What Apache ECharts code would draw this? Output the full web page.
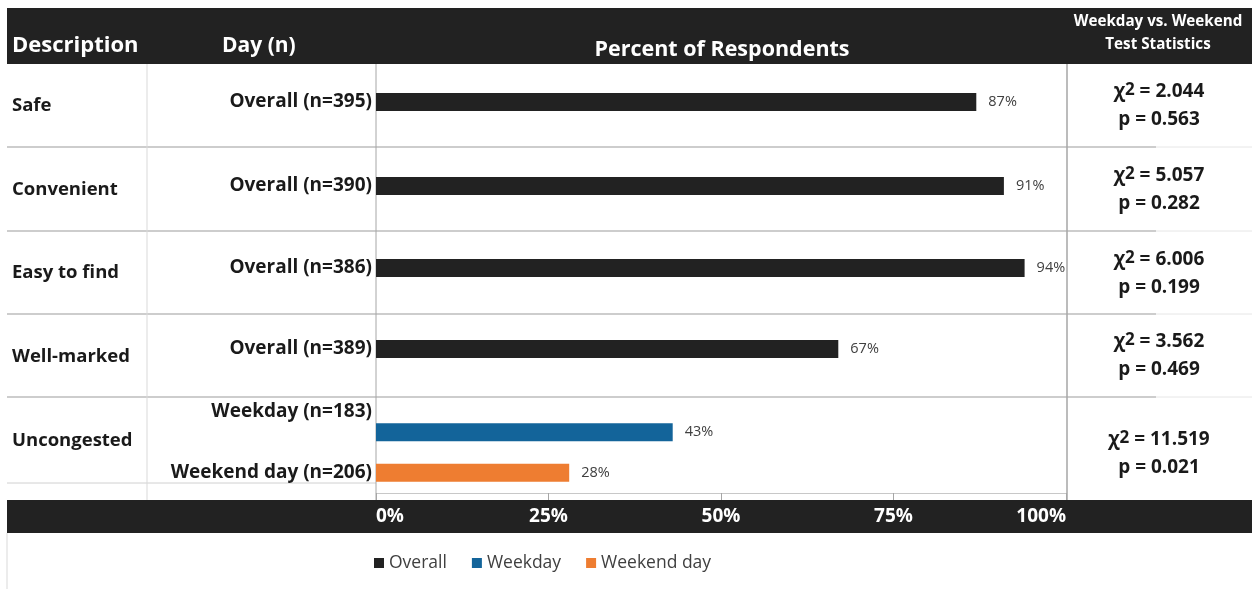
<!DOCTYPE html>
<html>
<head>
<meta charset="utf-8">
<script src="https://cdn.jsdelivr.net/npm/echarts@6/dist/echarts.min.js"></script>
<style>
  html, body { margin: 0; padding: 0; background: #ffffff; }
  #chart { width: 1252px; height: 589px; }
</style>
</head>
<body>
<div id="chart"></div>
<script>
// ---- data ----
const descriptions = ['Safe', 'Convenient', 'Easy to find', 'Well-marked', 'Uncongested'];
const dayLabels = [
  ['Overall (n=395)'],
  ['Overall (n=390)'],
  ['Overall (n=386)'],
  ['Overall (n=389)'],
  ['Weekday (n=183)', 'Weekend day (n=206)']
];
const overallValues = [87, 91, 94, 67];
const weekdayValues = [43];
const weekendValues = [28];
const chiSquare = ['2.044', '5.057', '6.006', '3.562', '11.519'];
const pValues = ['0.563', '0.282', '0.199', '0.469', '0.021'];
const percentTicks = [0, 25, 50, 75, 100];
const seriesNames = ['Overall', 'Weekday', 'Weekend day'];
const headers = ['Description', 'Day (n)', 'Percent of Respondents', 'Weekday vs. Weekend', 'Test Statistics'];

// ---- layout ----
const FONT = '"Open Sans", Lato, sans-serif';
const COLORS = { Overall: '#222222', Weekday: '#13649a', 'Weekend day': '#ee7d31' };
const plotLeft = 376, plotRight = 1066;
const rowLines = [147, 231, 314, 397];
const descCenters = [106, 190, 273, 357, 441];
const statCenters = [106, 190, 274, 356, 454];
const grids = [
  { top: 64, height: 76 },
  { top: 147, height: 78 },
  { top: 231, height: 74 },
  { top: 314, height: 70 },
  { top: 412, height: 81 }
];

const chart = echarts.init(document.getElementById('chart'), null, { renderer: 'canvas' });

const xAxes = grids.map((g, i) => {
  const last = i === grids.length - 1;
  return {
    gridIndex: i,
    type: 'value',
    min: percentTicks[0],
    max: percentTicks[percentTicks.length - 1],
    interval: percentTicks[1] - percentTicks[0],
    splitLine: { show: false },
    axisLine: { show: last, lineStyle: { color: '#c8c8c8', width: 1 } },
    axisTick: { show: last, length: 7, lineStyle: { color: '#a6a6a6' } },
    axisLabel: {
      show: last,
      color: '#ffffff',
      fontFamily: FONT,
      fontWeight: 'bold',
      fontSize: 19,
      margin: 14,
      alignMinLabel: 'left',
      alignMaxLabel: 'right',
      formatter: '{value}%'
    }
  };
});

const labelFont = { fontFamily: FONT, fontWeight: 'bold', fontSize: 19, color: '#1a1a1a' };
const yAxes = grids.map((g, i) => ({
  gridIndex: i,
  type: 'category',
  inverse: true,
  data: dayLabels[i],
  axisLine: { show: false },
  axisTick: { show: false },
  axisLabel: {
    margin: 4,
    formatter: (v, idx) => (dayLabels[i].length > 1 && idx === 0 ? '{up|' + v + '}' : '{n|' + v + '}'),
    rich: {
      n: Object.assign({}, labelFont),
      up: Object.assign({}, labelFont, { padding: [0, 0, 42, 0] })
    }
  }
}));

const valueLabel = {
  show: true,
  position: 'right',
  distance: 12,
  formatter: '{c}%',
  fontFamily: FONT,
  fontSize: 14.5,
  color: '#404040'
};

const series = [];
overallValues.forEach((v, i) => {
  series.push({
    name: seriesNames[0],
    type: 'bar',
    xAxisIndex: i,
    yAxisIndex: i,
    data: [v],
    barWidth: 18,
    itemStyle: { color: COLORS.Overall },
    label: valueLabel
  });
});
series.push({
  name: seriesNames[1],
  type: 'bar',
  xAxisIndex: 4,
  yAxisIndex: 4,
  stack: 'day',
  data: [weekdayValues[0], '-'],
  barWidth: 18,
  itemStyle: { color: COLORS.Weekday },
  label: valueLabel
});
series.push({
  name: seriesNames[2],
  type: 'bar',
  xAxisIndex: 4,
  yAxisIndex: 4,
  stack: 'day',
  data: ['-', weekendValues[0]],
  barWidth: 18,
  itemStyle: { color: COLORS['Weekend day'] },
  label: valueLabel
});

// table frame, header band and side texts
const graphics = [];
const line = (x1, y1, x2, y2, color, w) => graphics.push({
  type: 'line', silent: true, z: -5,
  shape: { x1, y1, x2, y2 },
  style: { stroke: color, lineWidth: w || 1 }
});
graphics.push({ type: 'rect', silent: true, z: -10, shape: { x: 7, y: 8, width: 1245, height: 56 }, style: { fill: '#222222' } });
graphics.push({ type: 'rect', silent: true, z: -10, shape: { x: 7, y: 500, width: 1245, height: 33 }, style: { fill: '#222222' } });
rowLines.forEach(y => {
  line(7, y, 1156, y, '#bdbdbd', 1.5);
  line(1156, y, 1252, y, '#e6e6e6', 1);
});
line(7, 483, plotLeft, 483, '#d0d0d0', 1);
line(147, 64, 147, 500, '#d9d9d9', 1);
line(plotLeft, 64, plotLeft, 500, '#a6a6a6', 1);
line(1067, 64, 1067, 500, '#a6a6a6', 1.5);
line(7, 533, 7, 589, '#d9d9d9', 1);

const text = (x, y, t, opts) => graphics.push(Object.assign({
  type: 'text', silent: true, z: 50, x, y,
  style: Object.assign({ text: t, fontFamily: FONT, verticalAlign: 'middle' }, opts)
}));
text(12, 46, headers[0], { fill: '#ffffff', fontWeight: 'bold', fontSize: 22 });
text(222, 46, headers[1], { fill: '#ffffff', fontWeight: 'bold', fontSize: 21 });
text(722, 50, headers[2], { fill: '#ffffff', fontWeight: 'bold', fontSize: 21.5, align: 'center' });
text(1158, 22, headers[3], { fill: '#ffffff', fontWeight: 'bold', fontSize: 15.2, align: 'center' });
text(1158, 45, headers[4], { fill: '#ffffff', fontWeight: 'bold', fontSize: 15.2, align: 'center' });

descriptions.forEach((d, i) => {
  text(12, descCenters[i], d, { fill: '#1a1a1a', fontWeight: 'bold', fontSize: 18.5 });
});

const statStyle = { fontFamily: FONT, fontWeight: 'bold', fontSize: 19, fill: '#1a1a1a' };
chiSquare.forEach((c, i) => {
  graphics.push({
    type: 'text', silent: true, z: 50, x: 1159, y: statCenters[i] - 14,
    style: {
      text: '{a|χ}{s|2}{a| = ' + c + '}',
      align: 'center', verticalAlign: 'middle',
      rich: {
        a: Object.assign({}, statStyle),
        s: Object.assign({}, statStyle, { fontSize: 17, padding: [0, 0, 3, 0] })
      }
    }
  });
  text(1159, statCenters[i] + 14, 'p = ' + pValues[i], Object.assign({ align: 'center' }, statStyle));
});

chart.setOption({
  animation: false,
  backgroundColor: '#ffffff',
  grid: grids.map(g => ({ left: plotLeft, width: plotRight - plotLeft, top: g.top, height: g.height, containLabel: false })),
  xAxis: xAxes,
  yAxis: yAxes,
  legend: {
    data: seriesNames,
    left: 369,
    top: 549,
    icon: 'rect',
    itemWidth: 10,
    itemHeight: 10,
    itemGap: 25,
    textStyle: { fontFamily: FONT, fontSize: 17.5, color: '#404040' }
  },
  series,
  graphic: graphics
});
</script>
</body>
</html>
